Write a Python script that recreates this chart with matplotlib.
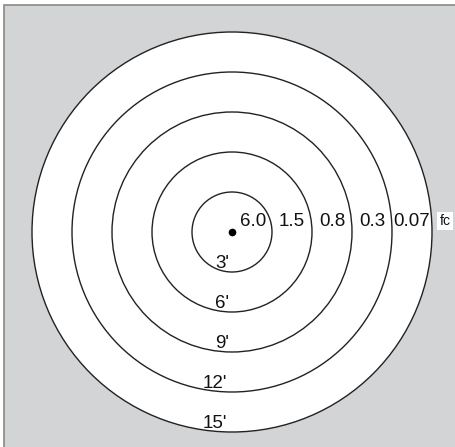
import matplotlib
matplotlib.use("Agg")
import matplotlib.pyplot as plt
from matplotlib.patches import Circle, Rectangle

# Data
distances_ft = [3, 6, 9, 12, 15]
distance_labels = ["3'", "6'", "9'", "12'", "15'"]
fc_labels = ["6.0", "1.5", "0.8", "0.3", "0.07"]
unit_label = "fc"

W, H, DPI = 456, 447, 100
cx, cy = 232, 232          # centre in pixels
px_per_ft = 200 / 15.0

fig = plt.figure(figsize=(W / DPI, H / DPI), dpi=DPI)
ax = fig.add_axes([0, 0, 1, 1])
ax.set_xlim(-cx / px_per_ft, (W - cx) / px_per_ft)
ax.set_ylim(-(H - cy) / px_per_ft, cy / px_per_ft)
ax.set_aspect("equal")
ax.axis("off")

def px2ft(x, y):
    return (x - cx) / px_per_ft, (cy - y) / px_per_ft

# gray background box (right/bottom edges run off the image)
x0, y0 = px2ft(4, 5)
x1, y1 = px2ft(W + 40, H + 40)
ax.add_patch(Rectangle((x0, y1), x1 - x0, y0 - y1, facecolor="#d3d4d6",
                       edgecolor="#8a8a80", linewidth=1.2, zorder=0))

# circles (outermost first)
for i, d in enumerate(reversed(distances_ft)):
    ax.add_patch(Circle((0, 0), d, facecolor="white", edgecolor="#222222",
                        linewidth=1.0, zorder=1 + i))

# centre dot
ax.plot([0], [0], "o", color="black", markersize=4.5, zorder=10)

font = "Liberation Sans"
# fc labels between circles
prev = 0
for d, lab in zip(distances_ft, fc_labels):
    xm = (prev + d) / 2.0
    if prev == 0:
        xm = d / 2.0 + 0.05
    ax.text(xm, 0.75, lab, ha="center", va="center", fontsize=13.5,
            family=font, color="#111111", zorder=20)
    prev = d

fx, fy = px2ft(445, 221)
ax.text(fx, fy, unit_label, ha="center", va="center", fontsize=10,
        family=font, color="#111111", zorder=20,
        bbox=dict(facecolor="white", edgecolor="none", pad=1.5))

# distance labels near bottom of each circle
for d, lab in zip(distances_ft, distance_labels):
    xoff = -0.75 if len(lab) == 2 else -1.3
    ax.text(xoff, -d + 0.3, lab, ha="center", va="baseline", fontsize=13.5,
            family=font, color="#111111", zorder=20)

fig.savefig("out.png", dpi=DPI)
